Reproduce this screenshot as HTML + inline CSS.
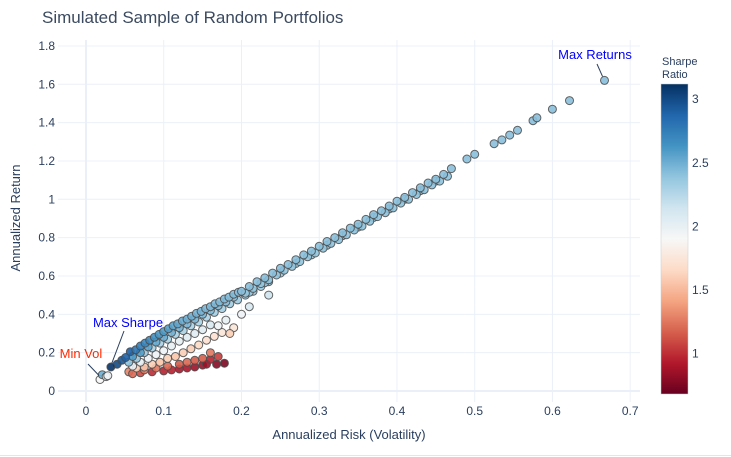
<!DOCTYPE html>
<html><head><meta charset="utf-8"><style>
html,body{margin:0;padding:0;background:#fff;width:731px;height:457px;overflow:hidden}
text{font-family:"Liberation Sans","DejaVu Sans",sans-serif}
</style></head><body>
<svg id="chart" width="731" height="457" viewBox="0 0 731 457" xmlns="http://www.w3.org/2000/svg">
<defs>
<linearGradient id="cbgrad" x1="0" y1="1" x2="0" y2="0">
<stop offset="0" stop-color="#67001f"/><stop offset="0.1" stop-color="#b2182b"/><stop offset="0.2" stop-color="#d6604d"/><stop offset="0.3" stop-color="#f4a582"/><stop offset="0.4" stop-color="#fddbc7"/><stop offset="0.5" stop-color="#f7f7f7"/><stop offset="0.6" stop-color="#d1e5f0"/><stop offset="0.7" stop-color="#92c5de"/><stop offset="0.8" stop-color="#4393c3"/><stop offset="0.9" stop-color="#2166ac"/><stop offset="1" stop-color="#053061"/>
</linearGradient>
</defs>
<text x="42" y="23" font-size="17" fill="#3b4a60">Simulated Sample of Random Portfolios</text>
<g id="grid"></g>
<g id="marks"></g>
<g id="annots"></g>
<g id="cbar"></g>
<line x1="0" y1="455.5" x2="731" y2="455.5" stroke="#e5e5e5"/>
</svg>
<script>
const risk = [0.070,0.085,0.100,0.110,0.120,0.130,0.140,0.150,0.155,0.160,0.168,0.178,
0.055,0.060,0.075,0.090,0.105,0.120,0.130,0.140,0.150,0.160,0.170,
0.065,0.075,0.085,0.095,0.105,0.115,0.125,0.135,0.145,0.155,0.165,0.175,0.190,0.185,
0.060,0.070,0.080,0.090,0.100,0.110,0.120,0.130,0.140,0.150,0.160,0.170,0.180,0.200,0.210,0.235,
0.055,0.065,0.075,0.085,0.095,0.105,0.115,0.125,0.135,0.145,0.155,0.165,0.175,0.185,0.195,0.205,0.215,0.225,0.235,
0.018,0.021,0.026,0.028,
0.060,0.070,0.080,0.090,0.100,0.110,0.120,0.130,0.140,0.150,0.160,0.170,0.180,0.190,
0.040,0.046,0.051,0.057,0.064,0.070,0.076,0.082,0.088,0.094,0.100,0.106,0.112,0.118,0.124,0.130,0.136,0.142,0.148,0.154,0.160,0.166,0.172,0.178,0.184,0.190,0.196,
0.21,0.23,0.25,0.27,0.29,0.31,0.33,0.35,0.37,0.39,0.41,0.43,0.45,
0.205,0.215,0.225,0.235,0.245,0.255,0.265,0.275,0.285,0.295,0.305,0.315,0.325,0.335,0.345,0.355,0.365,0.375,0.385,0.395,0.405,0.415,0.425,0.435,0.445,0.455,0.465,
0.20,0.21,0.22,0.23,0.24,0.25,0.26,0.27,0.28,0.29,0.30,0.31,0.32,0.33,0.34,0.35,0.36,0.37,0.38,0.39,0.40,0.41,0.42,0.43,0.44,0.45,0.46,0.47,
0.49,0.50,0.525,0.535,0.545,0.555,0.575,0.58,0.60,0.622,0.667,0.032];
const ret = [0.095,0.100,0.105,0.110,0.115,0.120,0.125,0.135,0.140,0.165,0.140,0.145,
0.100,0.090,0.110,0.120,0.130,0.140,0.150,0.160,0.170,0.200,0.180,
0.120,0.125,0.140,0.150,0.170,0.180,0.200,0.220,0.240,0.265,0.285,0.305,0.330,0.300,
0.130,0.150,0.170,0.190,0.210,0.235,0.260,0.280,0.300,0.320,0.345,0.340,0.370,0.400,0.440,0.500,
0.150,0.170,0.200,0.225,0.250,0.270,0.295,0.315,0.340,0.360,0.385,0.410,0.430,0.455,0.475,0.500,0.520,0.545,0.570,
0.060,0.085,0.075,0.080,
0.180,0.200,0.230,0.255,0.280,0.305,0.330,0.350,0.375,0.400,0.420,0.445,0.465,0.490,
0.140,0.160,0.175,0.205,0.215,0.235,0.250,0.265,0.280,0.295,0.310,0.325,0.340,0.350,0.365,0.375,0.390,0.405,0.415,0.430,0.440,0.455,0.465,0.480,0.490,0.505,0.515,
0.515,0.565,0.615,0.665,0.710,0.760,0.810,0.855,0.905,0.950,1.000,1.045,1.095,
0.510,0.535,0.560,0.580,0.605,0.630,0.650,0.675,0.700,0.720,0.745,0.770,0.790,0.815,0.840,0.860,0.885,0.910,0.930,0.955,0.980,1.000,1.025,1.050,1.075,1.095,1.120,
0.520,0.545,0.570,0.590,0.615,0.640,0.660,0.685,0.710,0.730,0.755,0.780,0.800,0.825,0.850,0.870,0.895,0.920,0.940,0.965,0.990,1.010,1.035,1.060,1.085,1.105,1.130,1.160,
1.210,1.235,1.290,1.310,1.335,1.360,1.410,1.425,1.470,1.515,1.620,0.125];
const sharpe = [1.10,1.00,0.95,0.95,0.90,0.90,0.85,0.85,0.85,0.95,0.78,0.75,
1.30,1.20,1.25,1.25,1.20,1.15,1.20,1.15,1.15,1.25,1.05,
1.60,1.55,1.60,1.55,1.60,1.55,1.60,1.60,1.65,1.70,1.70,1.75,1.75,1.60,
2.00,2.00,1.95,1.95,1.95,2.00,2.00,2.05,2.05,2.05,2.10,1.95,2.00,1.95,2.10,2.15,
2.40,2.35,2.35,2.30,2.30,2.30,2.30,2.30,2.30,2.30,2.30,2.32,2.32,2.33,2.34,2.35,2.35,2.36,2.36,
1.90,2.50,2.00,1.95,
2.60,2.58,2.55,2.52,2.50,2.48,2.47,2.45,2.45,2.44,2.43,2.42,2.42,2.41,
3.00,2.95,2.90,2.90,2.80,2.75,2.70,2.70,2.65,2.62,2.60,2.58,2.56,2.54,2.52,2.50,2.50,2.48,2.47,2.46,2.45,2.45,2.44,2.44,2.43,2.43,2.42,
2.36,2.36,2.36,2.36,2.36,2.37,2.37,2.37,2.37,2.38,2.38,2.38,2.38,
2.38,2.38,2.38,2.39,2.39,2.39,2.39,2.39,2.39,2.39,2.39,2.40,2.40,2.40,2.40,2.40,2.40,2.40,2.40,2.40,2.40,2.40,2.40,2.40,2.40,2.40,2.40,
2.42,2.42,2.42,2.42,2.42,2.42,2.41,2.41,2.41,2.41,2.41,2.41,2.41,2.41,2.41,2.41,2.41,2.41,2.41,2.41,2.41,2.41,2.41,2.41,2.41,2.41,2.41,2.41,
2.41,2.41,2.41,2.41,2.41,2.41,2.41,2.41,2.41,2.41,2.42,3.10];
const xTicks = [0,0.1,0.2,0.3,0.4,0.5,0.6,0.7];
const xTickLabels = ["0","0.1","0.2","0.3","0.4","0.5","0.6","0.7"];
const yTicks = [0,0.2,0.4,0.6,0.8,1,1.2,1.4,1.6,1.8];
const yTickLabels = ["0","0.2","0.4","0.6","0.8","1","1.2","1.4","1.6","1.8"];
const cbTicks = [1,1.5,2,2.5,3];
const cbTickLabels = ["1","1.5","2","2.5","3"];
const cMin = 0.68, cMax = 3.12;

const NS = "http://www.w3.org/2000/svg";
const X = v => 86 + v * 777.4;
const Y = v => 391 - v * 191.7;
const PL = 58, PR = 640, PT = 40, PB = 402;
function mk(tag, attrs, parent, txt){const e=document.createElementNS(NS,tag);for(const k in attrs)e.setAttribute(k,attrs[k]);if(txt!==undefined)e.textContent=txt;parent.appendChild(e);return e;}
const stops=[[0,[103,0,31]],[0.1,[178,24,43]],[0.2,[214,96,77]],[0.3,[244,165,130]],[0.4,[253,219,199]],[0.5,[247,247,247]],[0.6,[209,229,240]],[0.7,[146,197,222]],[0.8,[67,147,195]],[0.9,[33,102,172]],[1,[5,48,97]]];
function col(s){let t=Math.max(0,Math.min(1,(s-cMin)/(cMax-cMin)));for(let i=1;i<stops.length;i++){if(t<=stops[i][0]){const a=stops[i-1],b=stops[i];const f=(t-a[0])/(b[0]-a[0]);const c=a[1].map((v,j)=>Math.round(v+(b[1][j]-v)*f));return `rgb(${c[0]},${c[1]},${c[2]})`;}}return "rgb(5,48,97)";}

const grid=document.getElementById('grid');
xTicks.forEach((t,i)=>{
  const l=mk('line',{x1:X(t),x2:X(t),y1:PT,y2:PB,stroke:'#ebf0f8','stroke-width':t===0?2:1},grid);
  
  
  const tx=mk('text',{x:X(t),y:415,'font-size':12,fill:'#2a3f5f','text-anchor':'middle'},grid,xTickLabels[i]);
  
  
});
yTicks.forEach((t,i)=>{
  const l=mk('line',{x1:PL,x2:PR,y1:Y(t),y2:Y(t),stroke:'#ebf0f8','stroke-width':t===0?2:1},grid);
  
  
  const tx=mk('text',{x:55,y:Y(t)+4,'font-size':12,fill:'#2a3f5f','text-anchor':'end'},grid,yTickLabels[i]);
  
  
});
const xt=mk('text',{x:349,y:439,'font-size':13,fill:'#2a3f5f','text-anchor':'middle'},grid,'Annualized Risk (Volatility)');


const yt=mk('text',{x:0,y:0,'font-size':13,fill:'#2a3f5f','text-anchor':'middle',transform:'translate(20,218) rotate(-90)'},grid,'Annualized Return');



const marks=document.getElementById('marks');
risk.forEach((r,i)=>{
  const c=mk('circle',{cx:X(r).toFixed(1),cy:Y(ret[i]).toFixed(1),r:4,fill:col(sharpe[i]),'fill-opacity':0.9,stroke:'#4a4a4a','stroke-width':1,'stroke-opacity':0.85},marks);
  
  
});

const an=document.getElementById('annots');
function annot(label,color,tx,ty,ax,ay,px,py,name){
  const l=mk('line',{x1:ax,y1:ay,x2:px,y2:py,stroke:'#2a3f5f','stroke-width':1},an);
  
  
  const t=mk('text',{x:tx,y:ty,'font-size':13,fill:color,'text-anchor':'middle'},an,label);
  
  
}
annot('Max Returns','#0000ff',595,59,597,64,X(0.667)-2,Y(1.62)-4,'max-returns');
annot('Max Sharpe','#0000ff',128,327,124,331,X(0.032)+1,Y(0.125)-4,'max-sharpe');
annot('Min Vol','#ff2a00',81,358,88,364,X(0.018)-1,Y(0.06)-4,'min-vol');

const cb=document.getElementById('cbar');
const cbTop=84, cbBot=394;
const ct=mk('text',{x:662,y:65,'font-size':11,fill:'#2a3f5f'},cb,'Sharpe');


const ct2=mk('text',{x:662,y:78,'font-size':11,fill:'#2a3f5f'},cb,'Ratio');


const rb=mk('rect',{x:661,y:cbTop,width:27,height:cbBot-cbTop,fill:'url(#cbgrad)',stroke:'#ccc','stroke-width':0.5},cb);


cbTicks.forEach((t,i)=>{
  const y=cbBot-(t-cMin)/(cMax-cMin)*(cbBot-cbTop);
  const tx=mk('text',{x:692,y:y+4,'font-size':12,fill:'#2a3f5f'},cb,cbTickLabels[i]);
  
  
});
</script>
</body></html>
